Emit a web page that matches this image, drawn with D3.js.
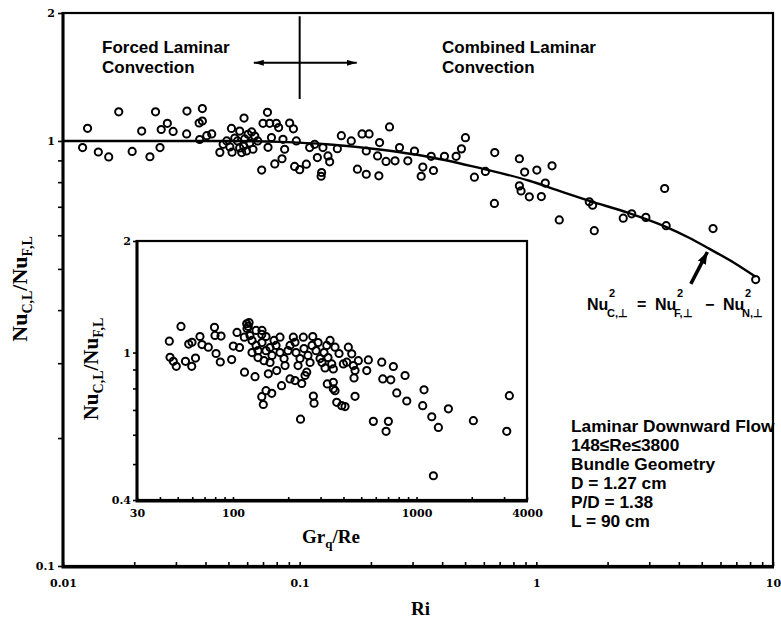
<!DOCTYPE html>
<html><head><meta charset="utf-8">
<script src="https://cdn.jsdelivr.net/npm/d3@7"></script>
<style>body{margin:0;background:#fff} svg{display:block}</style>
</head><body>
<svg id="chart" width="781" height="620"></svg>
<script>
// ---- main plot data: Ri vs Nu_C/Nu_F ----
const mainRi = [0.0121,0.0127,0.0141,0.0156,0.0172,0.0196,0.0215,0.0233,0.0246,0.0257,0.0260,0.0276,0.0292,0.0334,0.0333,0.0376,0.0388,0.0388,0.0378,0.0405,
  0.0425,0.0460,0.0475,0.0515,0.0518,0.0558,0.0582,0.0569,0.0596,0.0605,0.0635,0.0646,0.0546,0.0691,0.0731,0.0700,0.0747,0.0797,0.0815,0.0760,
  0.0735,0.0785,0.0842,0.0850,0.0864,0.0907,0.0941,0.0968,0.0952,0.100,0.1067,0.1102,0.1157,0.1188,0.1238,0.1254,0.1317,0.1339,0.1443,0.150,
  0.1652,0.1754,0.1835,0.1912,0.1965,0.1912,0.2176,0.2161,0.2397,0.2134,0.2317,0.2529,0.2642,0.2864,0.3056,0.3314,0.3262,0.3676,0.3595,0.4091,
  0.4583,0.4826,0.5017,0.5475,0.6093,0.6672,0.848,0.8925,1.005,1.165,1.091,0.848,0.862,0.934,1.050,0.665,1.250,1.674,1.729,1.757,
  3.485,2.329,2.529,2.903,3.537,5.581,8.45,0.1232,0.0532,0.0586,0.0615,0.0580,0.0665,0.0627,0.0558,0.0492,0.0507];
const mainRatio = [0.965,1.071,0.942,0.917,1.171,0.945,1.055,0.918,1.171,0.965,1.064,1.100,1.053,1.176,1.039,1.102,1.114,1.192,1.008,1.029,
  1.039,0.940,0.982,1.070,0.941,1.055,1.132,0.939,0.947,1.037,0.956,1.027,1.000,0.854,1.168,1.100,1.100,1.100,1.075,1.019,
  0.966,0.883,0.908,1.009,0.956,1.102,1.068,1.000,0.871,0.856,0.882,0.965,0.982,0.914,0.843,0.965,0.922,0.893,0.959,1.029,
  1.000,0.858,1.039,0.835,1.039,0.947,0.991,0.828,1.079,0.922,0.895,0.898,0.965,0.898,0.947,0.868,0.826,0.852,0.920,0.920,
  0.920,0.958,1.018,0.822,0.848,0.939,0.908,0.845,0.854,0.874,0.796,0.784,0.763,0.739,0.740,0.713,0.652,0.719,0.706,0.615,
  0.773,0.658,0.674,0.661,0.632,0.622,0.472,0.826,1.016,1.011,0.989,0.973,1.000,1.050,0.963,1.000,0.968];

// correlation curve  Nu_C^2 = Nu_F^2 - Nu_N^2
const curveRi = [0.01,0.0507,0.0823,0.1339,0.2176,0.3536,0.575,0.934,1.25,1.674,2.469,3.527,4.42,5.37,6.84,8.45];
const curveRatio = [1.0,1.0,0.995,0.981,0.955,0.917,0.864,0.806,0.763,0.723,0.676,0.628,0.592,0.558,0.517,0.479];

// ---- inset data: Gr_q/Re vs Nu_C/Nu_F ----
const insetGrRe = [45.0,52.1,45.4,47.3,49.1,55.1,59.6,62.5,57.4,59.8,66.1,67.8,73.4,79.3,79.8,86.1,80.9,85.3,98.4,100.4,
  108.6,105.2,115.3,118.8,121.2,115.6,131.9,143.5,151.4,180.4,213.2,241.7,272.1,217.8,155.9,173.1,184.0,204.6,217.8,237.0,
  247.0,143.5,146.3,162.7,151.4,274.2,276.6,326.6,352.2,317.5,345.2,233.4,338.0,324.3,367.6,252.3,359.8,378.4,399.4,425.2,
  443.7,482.0,546.6,535.7,452.7,462.5,456.7,416.9,352.2,352.2,359.8,391.4,408.0,462.5,646.7,747.9,866.4,655.0,724.1,780.6,
  885.1,1099,1081,1211,1316,1492,582.0,702.6,682.6,2041,1236,3206,3103,
  127.0,133.6,136.9,143.9,151.4,159.2,163.2,171.7,180.4,189.8,199.5,204.6,220.6,231.9,243.8,256.3,269.7,283.6,298.1,290.9,
  313.4,329.5,127.0,136.9,147.6,159.2,192.2,226.2,263.0,305.6,167.4,143.9,123.8,133.6,119.3,122.4];
const insetRatio = [1.073,1.176,0.971,0.947,0.918,0.947,0.918,0.966,1.054,1.066,1.105,1.051,1.034,1.170,1.112,1.108,0.994,0.943,0.957,1.041,
  1.032,1.133,1.100,1.196,1.176,0.885,0.861,1.119,1.105,1.100,1.100,1.100,1.105,1.066,0.876,0.894,0.814,0.849,0.840,0.825,
  0.867,0.760,0.724,0.776,0.789,0.763,0.730,0.823,0.798,0.909,0.932,0.661,1.078,1.045,0.734,0.885,1.034,0.994,0.932,1.034,
  0.992,0.951,0.955,0.894,0.922,0.894,0.854,0.942,0.903,0.831,0.789,0.719,0.715,0.762,0.942,0.917,0.867,0.849,0.844,0.778,
  0.740,0.793,0.719,0.671,0.628,0.705,0.652,0.652,0.613,0.655,0.465,0.765,0.613,
  1.078,1.045,1.012,1.064,1.012,1.032,0.982,1.045,1.000,0.963,1.012,1.045,1.000,0.963,1.025,0.982,1.045,1.012,0.963,1.064,
  1.000,0.969,1.000,0.969,0.951,0.940,0.922,0.922,0.940,0.940,1.078,1.147,1.111,1.147,1.161,1.205];

// tick labels
const mainXLabelValues = [0.01, 0.1, 1, 10];
const mainXLabels = ["0.01", "0.1", "1", "10"];
const mainYLabelValues = [0.1, 1, 2];
const mainYLabels = ["0.1", "1", "2"];
const insetXLabelValues = [30, 100, 1000, 4000];
const insetXLabels = ["30", "100", "1000", "4000"];
const insetYLabelValues = [0.4, 1, 2];
const insetYLabels = ["0.4", "1", "2"];

// annotations (data coords)
const regionLineRi = 0.1, regionLineTop = 1.965, regionLineBottom = 1.255;
const regionArrowRi = [0.0640, 0.1743], regionArrowRatio = 1.527;
const eqArrowRi = [4.495, 5.28], eqArrowRatio = [0.461, 0.548];
const infoLines = ["Laminar Downward Flow", "148\u2264Re\u22643800", "Bundle Geometry", "D = 1.27 cm", "P/D = 1.38", "L = 90 cm"];

const SANS = "'Liberation Sans', Arial, sans-serif";
const SERIF = "'Liberation Serif', 'Times New Roman', serif";
const TICKF = "'DejaVu Serif', serif";

const svg = d3.select("#chart");
const defs = svg.append("defs");
defs.append("marker").attr("id","ahSmall").attr("viewBox","0 0 10 6").attr("refX",10).attr("refY",3)
  .attr("markerWidth",10).attr("markerHeight",6).attr("markerUnits","userSpaceOnUse").attr("orient","auto-start-reverse")
  .append("path").attr("d","M0,0L10,3L0,6Z").attr("fill","#000");
defs.append("marker").attr("id","ahBig").attr("viewBox","0 0 12 9").attr("refX",12).attr("refY",4.5)
  .attr("markerWidth",12).attr("markerHeight",9).attr("markerUnits","userSpaceOnUse").attr("orient","auto")
  .append("path").attr("d","M0,0L12,4.5L0,9Z").attr("fill","#000");

const x = d3.scaleLog().domain([0.01, 10]).range([63, 773]);
const y = d3.scaleLog().domain([0.1, 2]).range([566, 13]);

function labeler(vals, labs) {
  return d => { const i = vals.findIndex(v => Math.abs(d - v) / v < 1e-6); return i >= 0 ? labs[i] : ""; };
}
function styleAxis(g) {
  g.select(".domain").remove();
  g.selectAll(".tick line").attr("stroke", "#000").attr("stroke-width", 1.6);
  g.selectAll(".tick text").attr("font-family", TICKF).attr("font-weight", "bold").attr("font-size", 11).attr("fill", "#000");
}

// main axes
svg.append("g").attr("transform", "translate(0,566)")
  .call(d3.axisBottom(x).tickValues(x.ticks()).tickSizeInner(-4).tickSizeOuter(0).tickPadding(13)
    .tickFormat(labeler(mainXLabelValues, mainXLabels))).call(styleAxis);
svg.append("g").attr("transform", "translate(63,0)")
  .call(d3.axisLeft(y).tickValues(y.ticks()).tickSizeInner(5).tickSizeOuter(0).tickPadding(3)
    .tickFormat(labeler(mainYLabelValues, mainYLabels))).call(styleAxis);

// frame
svg.append("rect").attr("x", 63).attr("y", 13).attr("width", 710).attr("height", 553)
  .attr("fill", "none").attr("stroke", "#000").attr("stroke-width", 2.2);
svg.append("path").attr("d", "M63,12V567H774").attr("fill", "none").attr("stroke", "#000").attr("stroke-width", 3);

// region annotations
svg.append("line").attr("x1", x(regionLineRi)).attr("x2", x(regionLineRi))
  .attr("y1", y(regionLineTop)).attr("y2", y(regionLineBottom)).attr("stroke", "#000").attr("stroke-width", 2);
svg.append("line").attr("x1", x(regionArrowRi[0])).attr("x2", x(regionArrowRi[1]))
  .attr("y1", y(regionArrowRatio)).attr("y2", y(regionArrowRatio)).attr("stroke", "#000").attr("stroke-width", 2)
  .attr("marker-start", "url(#ahSmall)").attr("marker-end", "url(#ahSmall)");

const annot = svg.append("g").attr("font-family", SANS).attr("font-weight", "bold").attr("fill", "#000");
annot.append("text").attr("x", 102).attr("y", 53).attr("font-size", 17).text("Forced Laminar");
annot.append("text").attr("x", 102).attr("y", 73).attr("font-size", 17).text("Convection");
annot.append("text").attr("x", 442).attr("y", 53).attr("font-size", 17).text("Combined Laminar");
annot.append("text").attr("x", 442).attr("y", 73).attr("font-size", 17).text("Convection");

// correlation curve
const curvePts = curveRi.map((r, i) => [r, curveRatio[i]]);
svg.append("path").datum(curvePts)
  .attr("d", d3.line().x(d => x(d[0])).y(d => y(d[1])).curve(d3.curveMonotoneX))
  .attr("fill", "none").attr("stroke", "#000").attr("stroke-width", 2.4);

// main points
svg.append("g").selectAll("circle").data(mainRi.map((r, i) => [r, mainRatio[i]])).join("circle")
  .attr("cx", d => x(d[0])).attr("cy", d => y(d[1])).attr("r", 3.6)
  .attr("fill", "none").attr("stroke", "#000").attr("stroke-width", 2);

// equation arrow
svg.append("line").attr("x1", x(eqArrowRi[0])).attr("y1", y(eqArrowRatio[0]))
  .attr("x2", x(eqArrowRi[1])).attr("y2", y(eqArrowRatio[1]))
  .attr("stroke", "#000").attr("stroke-width", 3.5).attr("marker-end", "url(#ahBig)");

// equation
const eq = svg.append("text").attr("font-family", SANS).attr("font-weight", "bold").attr("fill", "#000");
[["Nu",587,310,16],["2",609,297,11],["C,\u22a5",607,317,11],["=",637,310,16],
 ["Nu",655,310,16],["2",677,297,11],["F,\u22a5",674,317,11],["\u2212",705,310,16],
 ["Nu",723,310,16],["2",745,297,11],["N,\u22a5",742,317,11]].forEach(t => {
  eq.append("tspan").attr("x", t[1]).attr("y", t[2]).attr("font-size", t[3]).text(t[0]);
});

// info block
svg.append("g").attr("font-family", SANS).attr("font-weight", "bold").attr("font-size", 17.3).attr("fill", "#000")
  .selectAll("text").data(infoLines).join("text")
  .attr("x", 571).attr("y", (d, i) => 432 + i * 19)
  .text(d => d);

// main axis titles
const yl = svg.append("text").attr("transform", "translate(27,289) rotate(-90)").attr("text-anchor", "middle")
  .attr("font-family", SERIF).attr("font-weight", "bold").attr("font-size", 22).attr("fill", "#000");
yl.append("tspan").text("Nu");
yl.append("tspan").attr("font-size", 14).attr("dy", 5).text("C,L");
yl.append("tspan").attr("dy", -5).text("/Nu");
yl.append("tspan").attr("font-size", 14).attr("dy", 5).text("F,L");

svg.append("text").attr("x", 411).attr("y", 615).attr("font-family", SERIF).attr("font-weight", "bold")
  .attr("font-size", 19).attr("fill", "#000").text("Ri");

// ---- inset ----
const xi = d3.scaleLog().domain([30, 4000]).range([137, 527]);
const yi = d3.scaleLog().domain([0.4, 2]).range([500, 241]);

svg.append("rect").attr("x", 137).attr("y", 241).attr("width", 390).attr("height", 259).attr("fill", "#fff");
svg.append("g").attr("transform", "translate(0,500)")
  .call(d3.axisBottom(xi).tickValues(xi.ticks()).tickSizeInner(-3).tickSizeOuter(0).tickPadding(9)
    .tickFormat(labeler(insetXLabelValues, insetXLabels))).call(styleAxis);
svg.append("g").attr("transform", "translate(137,0)")
  .call(d3.axisLeft(yi).tickValues(yi.ticks()).tickSizeInner(4).tickSizeOuter(0).tickPadding(2)
    .tickFormat(labeler(insetYLabelValues, insetYLabels))).call(styleAxis);
svg.append("rect").attr("x", 137).attr("y", 241).attr("width", 390).attr("height", 259)
  .attr("fill", "none").attr("stroke", "#000").attr("stroke-width", 2.2);
svg.append("path").attr("d", "M137,240V501H528").attr("fill", "none").attr("stroke", "#000").attr("stroke-width", 3);

svg.append("g").selectAll("circle").data(insetGrRe.map((g, i) => [g, insetRatio[i]])).join("circle")
  .attr("cx", d => xi(d[0])).attr("cy", d => yi(d[1])).attr("r", 3.6)
  .attr("fill", "none").attr("stroke", "#000").attr("stroke-width", 2);

const iyl = svg.append("text").attr("transform", "translate(98,369) rotate(-90)").attr("text-anchor", "middle")
  .attr("font-family", SERIF).attr("font-weight", "bold").attr("font-size", 21).attr("fill", "#000");
iyl.append("tspan").text("Nu");
iyl.append("tspan").attr("font-size", 14).attr("dy", 5).text("C,L");
iyl.append("tspan").attr("dy", -5).text("/Nu");
iyl.append("tspan").attr("font-size", 14).attr("dy", 5).text("F,L");

const ixl = svg.append("text").attr("x", 302).attr("y", 543).attr("font-family", SERIF).attr("font-weight", "bold")
  .attr("font-size", 19).attr("fill", "#000");
ixl.append("tspan").text("Gr");
ixl.append("tspan").attr("font-size", 13).attr("dy", 5).text("q");
ixl.append("tspan").attr("dy", -5).text("/Re");
</script>
</body></html>
